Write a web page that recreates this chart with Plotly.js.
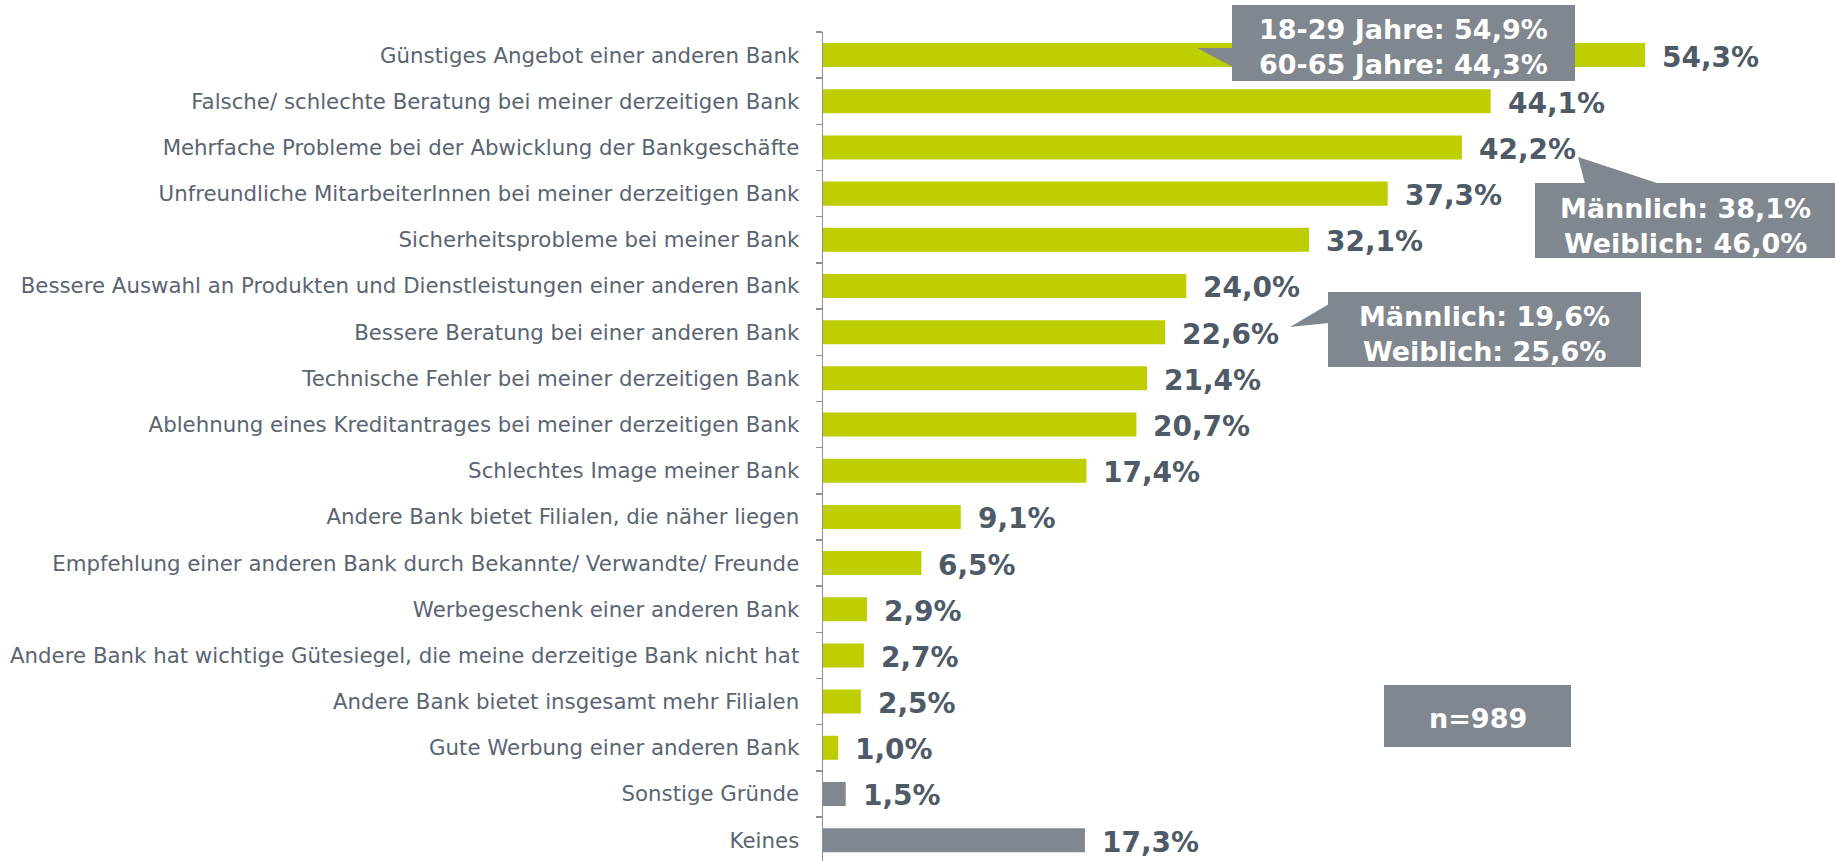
<!DOCTYPE html>
<html>
<head>
<meta charset="utf-8">
<script src="https://cdn.plot.ly/plotly-3.0.1.min.js"></script>
<style>html,body{margin:0;padding:0;background:#fff;}#chart{width:1835px;height:861px;}</style>
</head>
<body>
<div id="chart"></div>
<script>
// ---- data ----
const categories = [
  "Günstiges Angebot einer anderen Bank",
  "Falsche/ schlechte Beratung bei meiner derzeitigen Bank",
  "Mehrfache Probleme bei der Abwicklung der Bankgeschäfte",
  "Unfreundliche MitarbeiterInnen bei meiner derzeitigen Bank",
  "Sicherheitsprobleme bei meiner Bank",
  "Bessere Auswahl an Produkten und Dienstleistungen einer anderen Bank",
  "Bessere Beratung bei einer anderen Bank",
  "Technische Fehler bei meiner derzeitigen Bank",
  "Ablehnung eines Kreditantrages bei meiner derzeitigen Bank",
  "Schlechtes Image meiner Bank",
  "Andere Bank bietet Filialen, die näher liegen",
  "Empfehlung einer anderen Bank durch Bekannte/ Verwandte/ Freunde",
  "Werbegeschenk einer anderen Bank",
  "Andere Bank hat wichtige Gütesiegel, die meine derzeitige Bank nicht hat",
  "Andere Bank bietet insgesamt mehr Filialen",
  "Gute Werbung einer anderen Bank",
  "Sonstige Gründe",
  "Keines"
];
const values = [54.3, 44.1, 42.2, 37.3, 32.1, 24.0, 22.6, 21.4, 20.7, 17.4, 9.1, 6.5, 2.9, 2.7, 2.5, 1.0, 1.5, 17.3];
const otherCategories = ["Sonstige Gründe", "Keines"];
const calloutTexts = [
  "18-29 Jahre: 54,9%<br>60-65 Jahre: 44,3%",
  "Männlich: 38,1%<br>Weiblich: 46,0%",
  "Männlich: 19,6%<br>Weiblich: 25,6%",
  "n=989"
];

// ---- styling / layout ----
const W = 1835, H = 861;
const ML = 823, MR = 0, MT = 32, MB = 0;
const PW = W - ML - MR, PH = H - MT - MB;
const PX_PER_PCT = 15.14;
const ROW_PX = 46.18;
const GREEN = "#bfce00", GRAY = "#80878f";
const LABEL_COLOR = "#5a6572", VALUE_COLOR = "#4f5a67";
const FONT = "DejaVu Sans, Verdana, sans-serif";

const px = x => (x - ML) / PW;
const py = y => 1 - (y - MT) / PH;
function pathFrom(points) {
  return points.map((p, i) => (i ? "L" : "M") + px(p[0]) + "," + py(p[1])).join(" ") + " Z";
}

const fmt = v => v.toFixed(1).replace(".", ",") + "%";
const colors = categories.map(c => otherCategories.includes(c) ? GRAY : GREEN);

const trace = {
  type: "bar",
  orientation: "h",
  y: categories,
  x: values,
  marker: {color: colors},
  width: 0.52,
  hoverinfo: "skip"
};

const valueAnnotations = categories.map((c, i) => ({
  x: values[i], y: c, xref: "x", yref: "y",
  text: fmt(values[i]),
  showarrow: false, xanchor: "left", yanchor: "middle",
  xshift: 15, yshift: -2,
  font: {family: FONT, size: 28, color: VALUE_COLOR, weight: "bold"}
}));

// callout boxes in pixel coordinates
const boxes = [
  {rect: [1232, 5, 1575, 81], tri: [[1197, 48], [1233, 48], [1233, 67]], dy: -4},
  {rect: [1535, 183, 1835, 258], tri: [[1578, 157], [1585, 184], [1660, 184]], dy: -5},
  {rect: [1328, 292, 1641, 367], tri: [[1290, 327], [1329, 304], [1329, 323]], dy: -4},
  {rect: [1384, 685, 1571, 747], tri: null, dy: -2}
];

const shapes = [];
const calloutAnnotations = [];
boxes.forEach((b, i) => {
  const [x0, y0, x1, y1] = b.rect;
  shapes.push({type: "path", xref: "paper", yref: "paper",
    path: pathFrom([[x0, y0], [x1, y0], [x1, y1], [x0, y1]]),
    fillcolor: GRAY, line: {width: 0}, layer: "above"});
  if (b.tri) shapes.push({type: "path", xref: "paper", yref: "paper",
    path: pathFrom(b.tri), fillcolor: GRAY, line: {width: 0}, layer: "above"});
  calloutAnnotations.push({
    xref: "paper", yref: "paper",
    x: px((x0 + x1) / 2), y: py((y0 + y1) / 2), yshift: b.dy,
    text: calloutTexts[i], showarrow: false,
    xanchor: "center", yanchor: "middle",
    font: {family: FONT, size: 27, color: "#ffffff", weight: "bold"}
  });
});

const layout = {
  width: W, height: H,
  margin: {l: ML, r: MR, t: MT, b: MB, pad: 0},
  paper_bgcolor: "#ffffff", plot_bgcolor: "#ffffff",
  showlegend: false,
  bargap: 0.48,
  xaxis: {range: [0, PW / PX_PER_PCT], visible: false, showgrid: false, zeroline: false, fixedrange: true},
  yaxis: {
    type: "category",
    range: [-0.5 + PH / ROW_PX, -0.5],
    showline: true, linecolor: "#8c9198", linewidth: 1.5,
    ticks: "outside", ticklen: 6, tickcolor: "#8c9198", tickwidth: 1.5,
    tickson: "boundaries", showgrid: false, zeroline: false,
    ticklabelstandoff: 18,
    tickfont: {family: FONT, size: 21.3, color: LABEL_COLOR},
    automargin: false, fixedrange: true
  },
  shapes: shapes,
  annotations: valueAnnotations.concat(calloutAnnotations)
};

Plotly.newPlot("chart", [trace], layout, {displayModeBar: false, staticPlot: true});
</script>
</body>
</html>
